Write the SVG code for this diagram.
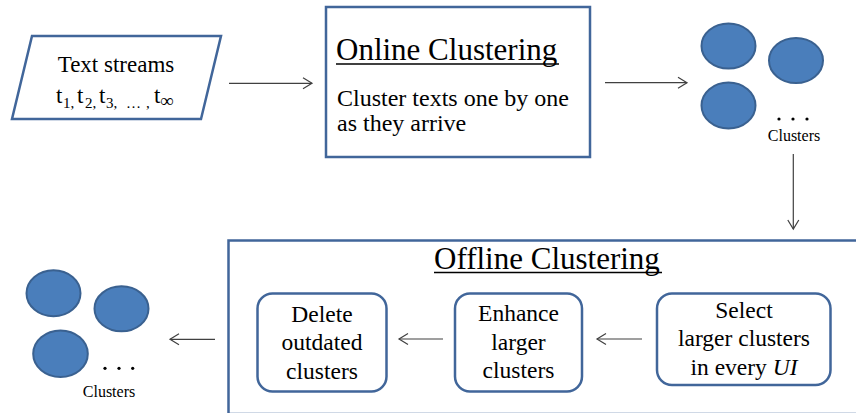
<svg xmlns="http://www.w3.org/2000/svg" width="856" height="413" viewBox="0 0 856 413">
<style>
  .box { fill: #ffffff; stroke: #41669a; stroke-width: 2.5; }
  .cl { fill: #4a7ebb; stroke: #3a6190; stroke-width: 2; }
  .t { fill: #000; }
  .conn { stroke: #404040; stroke-width: 1.2; fill: none; marker-end: url(#arr); }
  .ul { stroke: #000; stroke-width: 1.5; }
</style>
<defs>
  <marker id="arr" markerUnits="userSpaceOnUse" markerWidth="12" markerHeight="14" viewBox="0 0 12 14" refX="10" refY="7" orient="auto">
    <path d="M1,1.5 L10,7 L1,12.5" fill="none" stroke="#404040" stroke-width="1.2"/>
  </marker>
</defs>
<rect width="856" height="413" fill="#ffffff"/>

<g font-family="Liberation Serif, DejaVu Serif, serif">
<g id="text-streams">
  <polygon class="box" points="32,36 221,36 201,119 12,119"/>
  <text class="t" x="116" y="72" font-size="23" text-anchor="middle">Text streams</text>
  <text class="t" font-size="23">
    <tspan x="56" y="103">t</tspan><tspan x="63" y="108" font-size="15">1,</tspan>
    <tspan x="77" y="103">t</tspan><tspan x="85" y="108" font-size="15">2,</tspan>
    <tspan x="99" y="103">t</tspan><tspan x="106" y="108" font-size="15">3,</tspan>
    <tspan x="126" y="108" font-size="15">…</tspan><tspan x="146" y="108" font-size="15">,</tspan>
    <tspan x="154" y="103">t</tspan><tspan x="160" y="107" font-size="19">∞</tspan>
  </text>
</g>

<g id="online-clustering">
  <rect class="box" x="326" y="7" width="264" height="150"/>
  <text class="t" x="336" y="59.5" font-size="31">Online Clustering</text>
  <line class="ul" x1="336" y1="64" x2="559" y2="64"/>
  <text class="t" x="337" y="106" font-size="24">Cluster texts one by one</text>
  <text class="t" x="337" y="130.5" font-size="24">as they arrive</text>
</g>

<g id="clusters-top">
  <ellipse class="cl" cx="728.5" cy="46" rx="27" ry="22.5"/>
  <ellipse class="cl" cx="796" cy="60.5" rx="27" ry="22.5"/>
  <ellipse class="cl" cx="728.5" cy="105.5" rx="27" ry="23"/>
  <circle cx="779" cy="119" r="1.6" fill="#000"/>
  <circle cx="793" cy="119" r="1.6" fill="#000"/>
  <circle cx="807" cy="119" r="1.6" fill="#000"/>
  <text class="t" x="794" y="140.5" font-size="16" text-anchor="middle">Clusters</text>
</g>

<g id="offline-clustering">
  <rect class="box" x="228.5" y="240.5" width="640" height="173.5"/>
  <text class="t" x="434" y="268.5" font-size="31">Offline Clustering</text>
  <line class="ul" x1="434" y1="272.5" x2="662" y2="272.5"/>
</g>

<g id="delete-outdated">
  <rect class="box" x="257.5" y="293.5" width="129" height="98" rx="15"/>
  <text class="t" x="322" y="322" font-size="23.5" text-anchor="middle">Delete</text>
  <text class="t" x="322" y="350" font-size="23.5" text-anchor="middle">outdated</text>
  <text class="t" x="322" y="378.5" font-size="23.5" text-anchor="middle">clusters</text>
</g>

<g id="enhance-larger">
  <rect class="box" x="455" y="293.5" width="127" height="98" rx="15"/>
  <text class="t" x="518.5" y="321" font-size="23.5" text-anchor="middle">Enhance</text>
  <text class="t" x="518.5" y="349.5" font-size="23.5" text-anchor="middle">larger</text>
  <text class="t" x="518.5" y="377.5" font-size="23.5" text-anchor="middle">clusters</text>
</g>

<g id="select-larger">
  <rect class="box" x="657" y="293.5" width="173.5" height="91.5" rx="15"/>
  <text class="t" x="744" y="318" font-size="23.5" text-anchor="middle">Select</text>
  <text class="t" x="744" y="346" font-size="23.5" text-anchor="middle">larger clusters</text>
  <text class="t" x="744" y="374.5" font-size="23.5" text-anchor="middle">in every <tspan font-style="italic">UI</tspan></text>
</g>

<g id="clusters-bottom">
  <ellipse class="cl" cx="53.5" cy="293.3" rx="27" ry="23"/>
  <ellipse class="cl" cx="121.5" cy="308.8" rx="27" ry="22.5"/>
  <ellipse class="cl" cx="60.5" cy="353.7" rx="27.3" ry="23.3"/>
  <circle cx="105" cy="368.3" r="1.6" fill="#000"/>
  <circle cx="119" cy="368.3" r="1.6" fill="#000"/>
  <circle cx="132.7" cy="368.3" r="1.6" fill="#000"/>
  <text class="t" x="109" y="396.5" font-size="16" text-anchor="middle">Clusters</text>
</g>
</g>

<g id="connectors">
  <line class="conn" x1="229" y1="83.3" x2="312" y2="83.3"/>
  <line class="conn" x1="605" y1="82.7" x2="687" y2="82.7"/>
  <line class="conn" x1="793.3" y1="154" x2="793.3" y2="229"/>
  <line class="conn" x1="642" y1="339" x2="597" y2="339"/>
  <line class="conn" x1="443" y1="339" x2="399" y2="339"/>
  <line class="conn" x1="215" y1="339.3" x2="170" y2="339.3"/>
</g>
</svg>
